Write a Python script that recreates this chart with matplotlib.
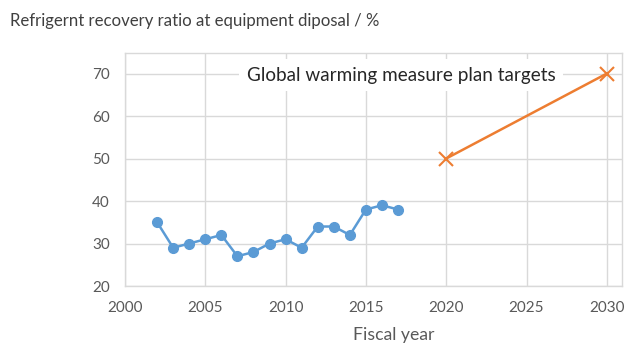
import matplotlib
matplotlib.use("Agg")
import matplotlib.pyplot as plt

# Measured recovery ratio (%) by fiscal year
years = [2002, 2003, 2004, 2005, 2006, 2007, 2008, 2009, 2010, 2011,
         2012, 2013, 2014, 2015, 2016, 2017]
recovery = [35, 29, 30, 31, 32, 27, 28, 30, 31, 29, 34, 34, 32, 38, 39, 38]

# Plan targets
target_years = [2020, 2030]
target_values = [50, 70]

x_ticks = [2000, 2005, 2010, 2015, 2020, 2025, 2030]
y_ticks = [20, 30, 40, 50, 60, 70]

title = "Refrigernt recovery ratio at equipment diposal / %"
x_label = "Fiscal year"
target_label = "Global warming measure plan targets"

plt.rcParams['font.family'] = ['Lato', 'DejaVu Sans']

fig = plt.figure(figsize=(6.41, 3.45), dpi=100)
ax = fig.add_axes([0.195, 0.171, 0.775, 0.675])

grid_c = "#D9D9D9"
ax.set_xlim(2000, 2030.93)
ax.set_ylim(20, 74.8)
ax.set_xticks(x_ticks)
ax.set_yticks(y_ticks)
ax.grid(True, color=grid_c, linewidth=1.0)
ax.set_axisbelow(True)
for s in ax.spines.values():
    s.set_color(grid_c)
    s.set_linewidth(1.0)
ax.tick_params(length=0, labelsize=11, labelcolor="#595959", pad=11)

ax.plot(years, recovery, color="#5B9BD5", linewidth=1.8, marker="o",
        markersize=7, zorder=3)
ax.plot(target_years, target_values, color="#ED7D31", linewidth=1.8,
        marker="x", markersize=10, markeredgewidth=1.5, zorder=3)

ax.text(2017.2, 69.6, target_label, ha="center", va="center", fontsize=13.6,
        color="#262626", zorder=2,
        bbox=dict(boxstyle="square,pad=0.4", fc="white", ec="none"))

fig.text(0.016, 0.94, title, ha="left", va="center", fontsize=12.1,
         color="#404040")
fig.text(0.614, 0.028, x_label, ha="center", va="center", fontsize=12.7,
         color="#595959")

fig.savefig("out.png", dpi=100)
